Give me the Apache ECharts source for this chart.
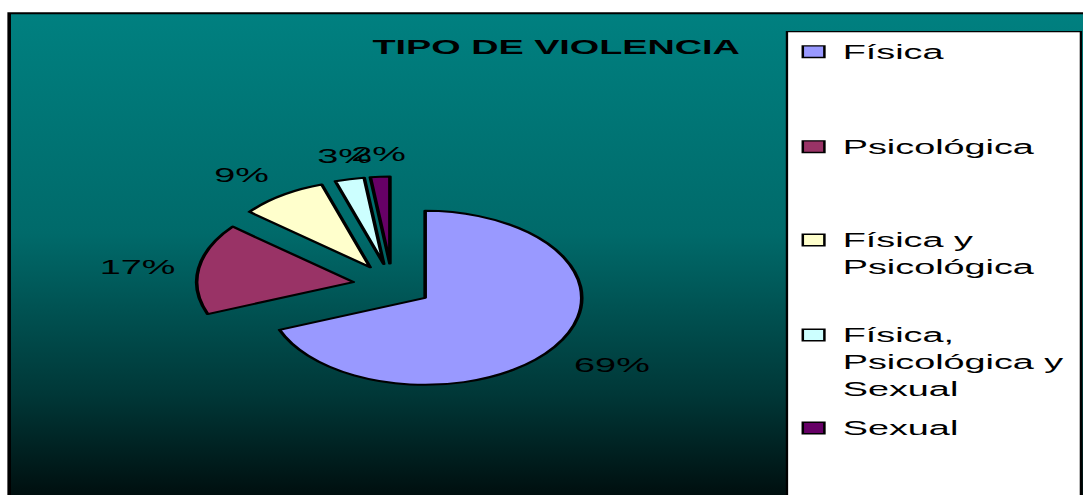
<!DOCTYPE html>
<html>
<head>
<meta charset="utf-8">
<script src="https://cdn.jsdelivr.net/npm/echarts@6/dist/echarts.min.js"></script>
<style>
  html, body { margin: 0; padding: 0; background: #fff; overflow: hidden; }
  /* el gráfico original está estirado en horizontal: se dibuja estrecho y se estira */
  #main { width: 602px; height: 495px; transform: scaleX(1.8); transform-origin: 0 0; }
</style>
</head>
<body>
<div id="main"></div>
<script>
var categories = ['Física', 'Psicológica', 'Física y Psicológica', 'Física, Psicológica y Sexual', 'Sexual'];
var legendLabels = ['Física', 'Psicológica', 'Física y\nPsicológica', 'Física,\nPsicológica y\nSexual', 'Sexual'];
var values = [69, 17, 9, 3, 2];
var colors = ['#9999FF', '#993366', '#FFFFCC', '#CCFFFF', '#660066'];

var FONT = '"Liberation Sans", Arial, sans-serif';
var pieCenter = [218, 285.5],   // coordenadas internas (antes del estirado)
    pieRadius = 87,
    pieExplode = 22,
    labelDist = 1.15;           // distancia de la etiqueta en radios (desde la porcion separada)

var chart = echarts.init(document.getElementById('main'), null, { renderer: 'svg' });

// angulo medio de cada porcion (desde las 12, sentido horario)
var total = values.reduce(function (a, b) { return a + b; }, 0);
var midAngles = [];
(function () {
  var acc = 0;
  values.forEach(function (v) {
    midAngles.push((acc + v / 2) / total * Math.PI * 2);
    acc += v;
  });
})();

// etiquetas de porcentaje, colocadas como en Excel
var pctLabels = values.map(function (v, i) {
  var a = midAngles[i];
  var sx = Math.sin(a), cy = Math.cos(a);
  var d = pieExplode + pieRadius * labelDist;
  return {
    type: 'text', z: 5,
    style: {
      x: pieCenter[0] + d * sx,
      y: pieCenter[1] - d * cy,
      text: Math.round(v / total * 100) + '%',
      font: '21px ' + FONT,
      fill: '#000',
      align: sx > 0.3 ? 'left' : (sx < -0.3 ? 'right' : 'center'),
      verticalAlign: cy > 0.3 ? 'bottom' : (cy < -0.3 ? 'top' : 'middle')
    }
  };
});

// leyenda dibujada a mano (texto alineado arriba como en Excel)
var legendItems = [];
var legendY = [51.7, 146.7, 240, 335, 428];
categories.forEach(function (c, i) {
  legendItems.push({
    type: 'rect', z: 10,
    shape: { x: 446, y: legendY[i] - 5.8, width: 12, height: 11.6 },
    style: { fill: colors[i], stroke: '#000', lineWidth: 1.4 }
  });
  legendItems.push({
    type: 'text', z: 10,
    style: {
      x: 468.2, y: legendY[i] - 13.5,
      text: legendLabels[i],
      font: '21px ' + FONT,
      lineHeight: 26.7,
      fill: '#000',
      verticalAlign: 'top'
    }
  });
});

var option = {
  backgroundColor: '#fff',
  animation: false,
  title: {
    text: 'TIPO DE VIOLENCIA',
    left: 304,
    top: 31,
    textAlign: 'center',
    textStyle: { fontFamily: FONT, fontSize: 21, fontWeight: 'bold', color: '#000' }
  },
  graphic: [
    {
      type: 'rect', z: -10,
      shape: { x: 5.1, y: 13.2, width: 700, height: 490 },
      style: {
        stroke: '#000', lineWidth: 2,
        fill: new echarts.graphic.LinearGradient(0, 0, 0, 1, [
          { offset: 0, color: '#008080' },
          { offset: 0.45, color: '#006a6a' },
          { offset: 0.78, color: '#003737' },
          { offset: 1, color: '#000c0c' }
        ])
      }
    },
    {
      type: 'rect', z: 9,
      shape: { x: 437.2, y: 31.7, width: 163.3, height: 500 },
      style: { fill: '#fff', stroke: '#000', lineWidth: 1.3 }
    }
  ].concat(pctLabels, legendItems),
  series: [{
    type: 'pie',
    center: pieCenter,
    radius: pieRadius,
    startAngle: 90,
    clockwise: true,
    selectedMode: 'multiple',
    selectedOffset: pieExplode,
    avoidLabelOverlap: false,
    itemStyle: { borderColor: '#000', borderWidth: 2 },
    select: { itemStyle: { borderColor: '#000', borderWidth: 2 } },
    emphasis: { disabled: true },
    label: { show: false },
    labelLine: { show: false },
    data: categories.map(function (c, i) {
      return { name: c, value: values[i], selected: true, itemStyle: { color: colors[i] } };
    })
  }]
};

chart.setOption(option);
</script>
</body>
</html>
